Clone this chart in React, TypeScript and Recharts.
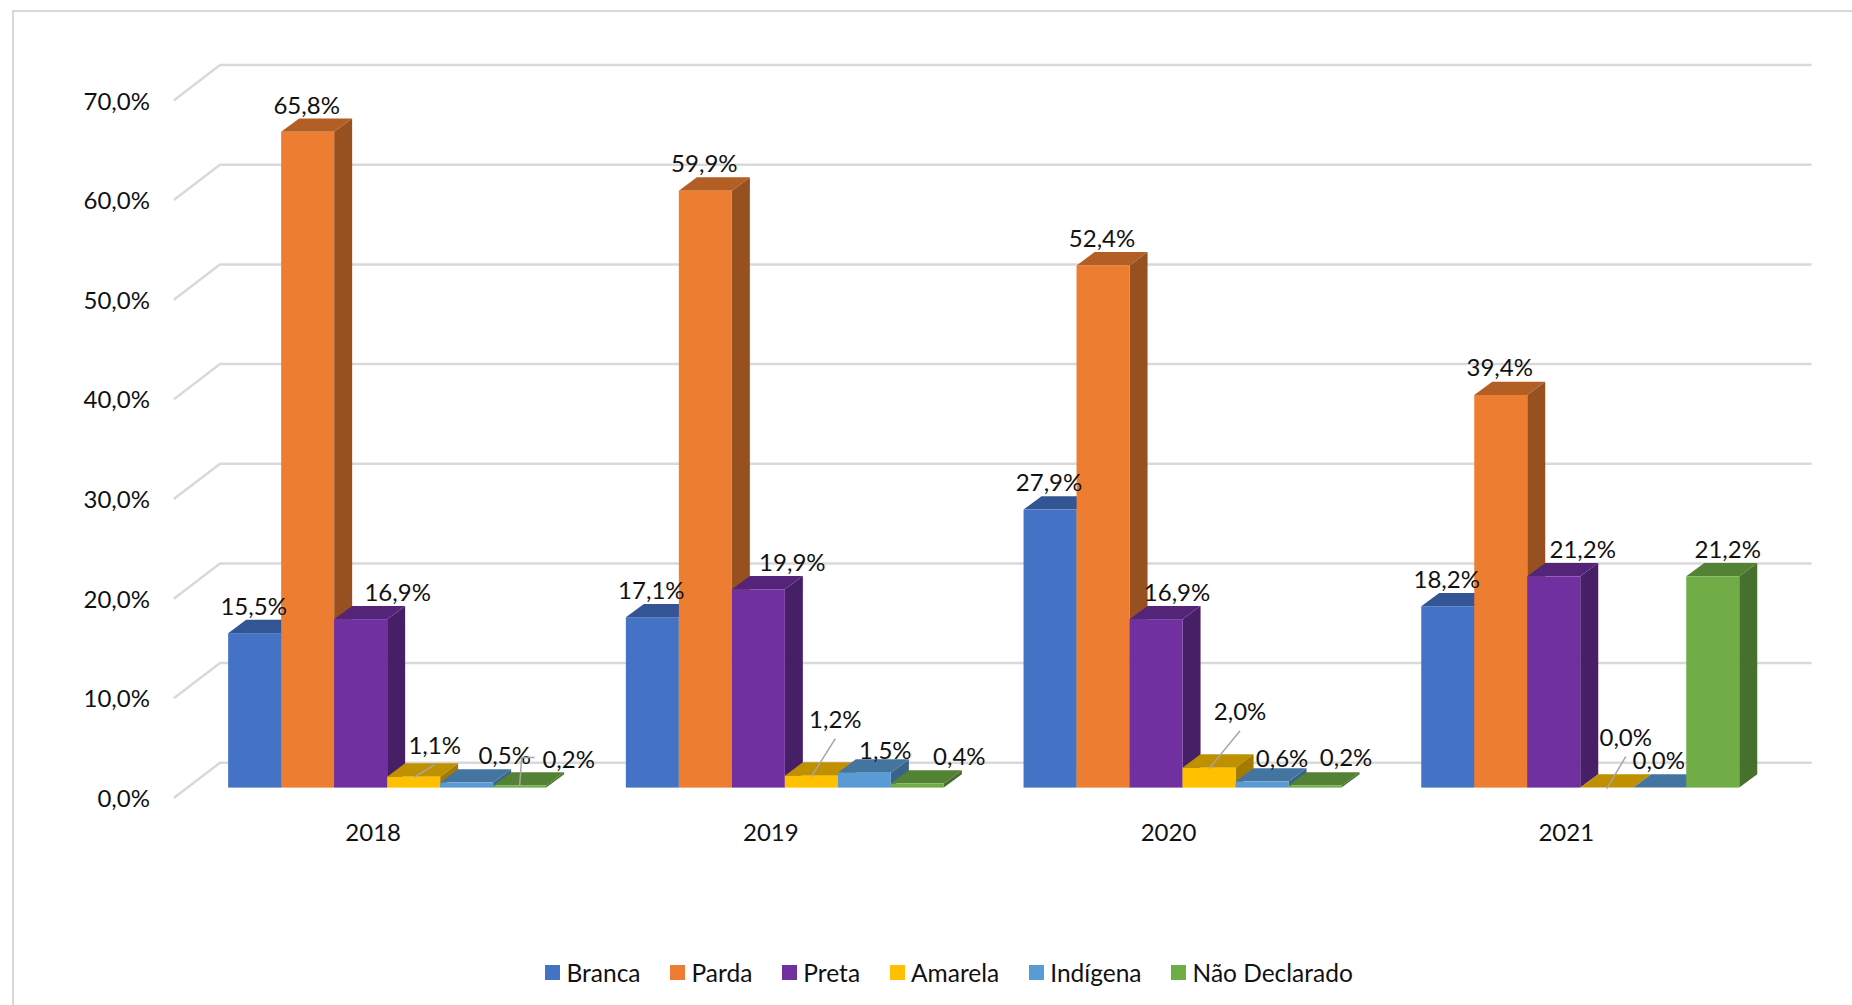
import { BarChart, Bar, XAxis, YAxis, CartesianGrid, LabelList, Legend } from 'recharts';

const years = ['2018', '2019', '2020', '2021'];
const branca = [15.5, 17.1, 27.9, 18.2];
const parda = [65.8, 59.9, 52.4, 39.4];
const preta = [16.9, 19.9, 16.9, 21.2];
const amarela = [1.1, 1.2, 2.0, 0.0];
const indigena = [0.5, 1.5, 0.6, 0.0];
const naoDeclarado = [0.2, 0.4, 0.2, 21.2];
const yTicks = [0, 10, 20, 30, 40, 50, 60, 70];

const chartData = years.map((year, i) => ({
  year,
  branca: branca[i],
  parda: parda[i],
  preta: preta[i],
  amarela: amarela[i],
  indigena: indigena[i],
  naoDeclarado: naoDeclarado[i],
}));

// cores das faces: frente, topo, lateral
const series = [
  { key: 'branca', name: 'Branca', front: '#4472C4', top: '#335593', side: '#2C4A80' },
  { key: 'parda', name: 'Parda', front: '#ED7D31', top: '#B25E25', side: '#97501F' },
  { key: 'preta', name: 'Preta', front: '#7030A0', top: '#542478', side: '#471F66' },
  { key: 'amarela', name: 'Amarela', front: '#FFC000', top: '#BF9000', side: '#A37B00' },
  { key: 'indigena', name: 'Indígena', front: '#5B9BD5', top: '#4474A0', side: '#3A6388' },
  { key: 'naoDeclarado', name: 'Não Declarado', front: '#70AD47', top: '#548235', side: '#476F2D' },
];

// deslocamento manual dos rótulos (como no gráfico original), por série e ano
const labelNudge: Record<string, [number, number][]> = {
  branca: [[-1, 0], [-1, 0], [-1, 0], [-1, 0]],
  parda: [[-1, 1], [-1, 0], [-1, 0], [-1, 0]],
  preta: [[37, 0], [34, 0], [21, 0], [29, 0]],
  amarela: [[21, -4], [24, -29], [31, -29], [19, -23]],
  indigena: [[38, 0], [21, 5], [20, 4], [-1, 0]],
  naoDeclarado: [[49, 1], [42, 0], [31, -1], [15, 0]],
};

const leaders: Record<string, boolean[]> = {
  amarela: [true, true, true, true],
};

const FONT = 'Lato, sans-serif';
const FONT_SIZE = 24;
const TEXT = '#111111';
const GRID = '#D9D9D9';
const DEPTH_X = 18;
const DEPTH_Y = 13.3;

const Box3D = (props: any) => {
  const { x, y, width, height, front, top, side } = props;
  const r = x + width;
  const b = y + height;
  return (
    <g>
      <path d={`M${r},${y} L${r + DEPTH_X},${y - DEPTH_Y} L${r + DEPTH_X},${b - DEPTH_Y} L${r},${b} Z`} fill={side} />
      <path d={`M${x},${y} L${x + DEPTH_X},${y - DEPTH_Y} L${r + DEPTH_X},${y - DEPTH_Y} L${r},${y} Z`} fill={top} />
      <rect x={x} y={y} width={width} height={height} fill={front} />
    </g>
  );
};

const makeLabel = (key: string) => (props: any) => {
  const { x, y, width, value, index } = props;
  const [dx, dy] = labelNudge[key][index];
  const cx = x + width / 2;
  const lx = cx + dx;
  const ly = y - 28 + dy;
  return (
    <g>
      {leaders[key]?.[index] && (
        <path d={`M${cx},${y + 1} L${lx},${ly + 20}`} stroke="#A6A6A6" strokeWidth={1.5} fill="none" />
      )}
      {key === 'naoDeclarado' && index === 0 && (
        <path d={`M${cx},${y} L${lx - 47},${ly - 1} L${lx - 34},${ly - 1}`} stroke="#A6A6A6" strokeWidth={1.5} fill="none" />
      )}
      <text x={lx} y={ly} textAnchor="middle" dominantBaseline="central" fontFamily={FONT} fontSize={FONT_SIZE} fill={TEXT}>
        {Number(value).toFixed(1).replace('.', ',')}%
      </text>
    </g>
  );
};

// grade em perspectiva: diagonal na parede lateral + linha na parede do fundo
const WallLine = (props: any) => {
  const { x1, x2, y1 } = props;
  return (
    <path
      d={`M${x1 - 15},${y1 + 10.4} L${x1 + 31.2},${y1 - 24.9} L${x2 + 32},${y1 - 24.9}`}
      stroke={GRID}
      strokeWidth={2.5}
      fill="none"
    />
  );
};

const YTick = ({ y, payload }: any) => (
  <text x={150} y={y + 10} textAnchor="end" dominantBaseline="central" fontFamily={FONT} fontSize={FONT_SIZE} fill={TEXT}>
    {payload.value.toFixed(1).replace('.', ',')}%
  </text>
);

const XTick = ({ x, payload }: any) => (
  <text x={x - 14.5} y={831} textAnchor="middle" dominantBaseline="central" fontFamily={FONT} fontSize={FONT_SIZE} fill={TEXT}>
    {payload.value}
  </text>
);

const LegendRow = () => (
  <div style={{ display: 'flex', alignItems: 'center', height: 30, gap: 29.5, paddingLeft: 545, fontFamily: FONT, fontSize: 24.5, color: TEXT }}>
    {series.map(s => (
      <span key={s.key} style={{ display: 'flex', alignItems: 'center' }}>
        <span style={{ width: 15, height: 15, background: s.front, marginRight: 6.5 }} />
        {s.name}
      </span>
    ))}
  </div>
);

export default function App() {
  return (
    <div style={{ position: 'absolute', left: 0, top: 0, width: 1852, height: 1005, background: '#fff', overflow: 'hidden' }}>
      <div style={{ position: 'absolute', left: 12, top: 10, width: 1852, height: 1005, borderLeft: `2.5px solid ${GRID}`, borderTop: `2.5px solid ${GRID}` }} />
      <BarChart
        width={1852}
        height={1005}
        data={chartData}
        margin={{ top: 90, right: 72.4, bottom: 157.4, left: 88.8 }}
        barCategoryGap={39.35}
        barGap={0}
        style={{ position: 'absolute', left: 0, top: 0 }}
      >
        <CartesianGrid vertical={false} horizontal={(p: any) => <WallLine key={p.key} {...p} />} />
        <XAxis dataKey="year" axisLine={false} tickLine={false} height={30} tick={<XTick />} interval={0} />
        <XAxis dataKey="year" xAxisId="labels" hide />
        <YAxis width={100} domain={[0, 70]} ticks={yTicks} axisLine={false} tickLine={false} tick={<YTick />} interval={0} />
        <Legend
          content={<LegendRow />}
          wrapperStyle={{ position: 'absolute', left: 0, width: 1852, top: 957, height: 30 }}
        />
        {series.map(s => (
          <Bar
            key={s.key}
            dataKey={s.key}
            name={s.name}
            isAnimationActive={false}
            shape={(p: any) => <Box3D {...p} front={s.front} top={s.top} side={s.side} />}
          />
        ))}
        {/* rótulos num segundo passe para ficarem acima de todas as barras */}
        {series.map(s => (
          <Bar
            key={`${s.key}-label`}
            xAxisId="labels"
            dataKey={s.key}
            legendType="none"
            isAnimationActive={false}
            shape={() => <g />}
          >
            <LabelList dataKey={s.key} content={makeLabel(s.key)} />
          </Bar>
        ))}
      </BarChart>
    </div>
  );
}
